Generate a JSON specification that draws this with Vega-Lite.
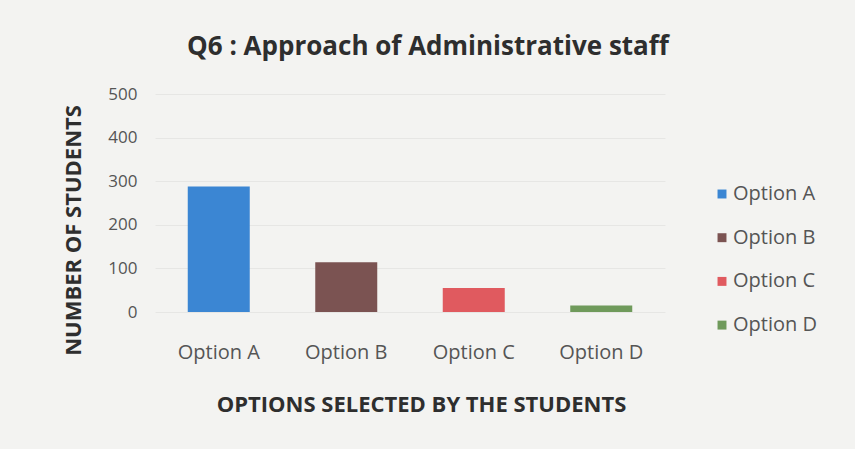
{
  "$schema": "https://vega.github.io/schema/vega-lite/v6.json",
  "autosize": "none",
  "width": 510,
  "height": 218,
  "padding": {"left": 155, "top": 94, "right": 190, "bottom": 137},
  "background": "#f3f3f1",
  "config": {
    "font": "Open Sans",
    "view": {"stroke": null}
  },
  "title": {
    "text": "Q6 : Approach of Administrative staff",
    "fontSize": 26,
    "fontWeight": "bold",
    "color": "#2e2e2e",
    "font": "Open Sans",
    "offset": 25,
    "dx": 18
  },
  "data": {
    "values": [
      {"option": "Option A", "students": 288},
      {"option": "Option B", "students": 114},
      {"option": "Option C", "students": 55},
      {"option": "Option D", "students": 15}
    ]
  },
  "mark": {"type": "bar", "width": 62},
  "encoding": {
    "x": {
      "field": "option",
      "type": "nominal",
      "sort": null,
      "scale": {"paddingInner": 0.5, "paddingOuter": 0.25},
      "axis": {
        "title": "OPTIONS SELECTED BY THE STUDENTS",
        "titleFontSize": 22,
        "titleFontWeight": "bold",
        "titleColor": "#2e2e2e",
        "titlePadding": 32,
        "titleX": 266,
        "labelAngle": 0,
        "labelFontSize": 20,
        "labelColor": "#555555",
        "labelPadding": 30,
        "ticks": false,
        "domain": false
      }
    },
    "y": {
      "field": "students",
      "type": "quantitative",
      "scale": {"domain": [0, 500]},
      "axis": {
        "title": "NUMBER OF STUDENTS",
        "titleFontSize": 22,
        "titleFontWeight": "bold",
        "titleColor": "#2e2e2e",
        "titlePadding": 22,
        "titleY": 136,
        "values": [0, 100, 200, 300, 400, 500],
        "labelFontSize": 17,
        "labelColor": "#555555",
        "labelPadding": 18,
        "ticks": false,
        "domain": false,
        "gridColor": "#e6e6e4",
        "gridWidth": 1
      }
    },
    "color": {
      "field": "option",
      "type": "nominal",
      "scale": {
        "domain": ["Option A", "Option B", "Option C", "Option D"],
        "range": ["#3b86d3", "#7b5352", "#e05a5f", "#6f9a5b"]
      },
      "legend": {
        "title": null,
        "orient": "none",
        "legendX": 557,
        "legendY": 90,
        "symbolType": "square",
        "symbolSize": 80,
        "labelFontSize": 20,
        "labelColor": "#555555",
        "rowPadding": 23.7,
        "labelOffset": 1
      }
    }
  }
}
